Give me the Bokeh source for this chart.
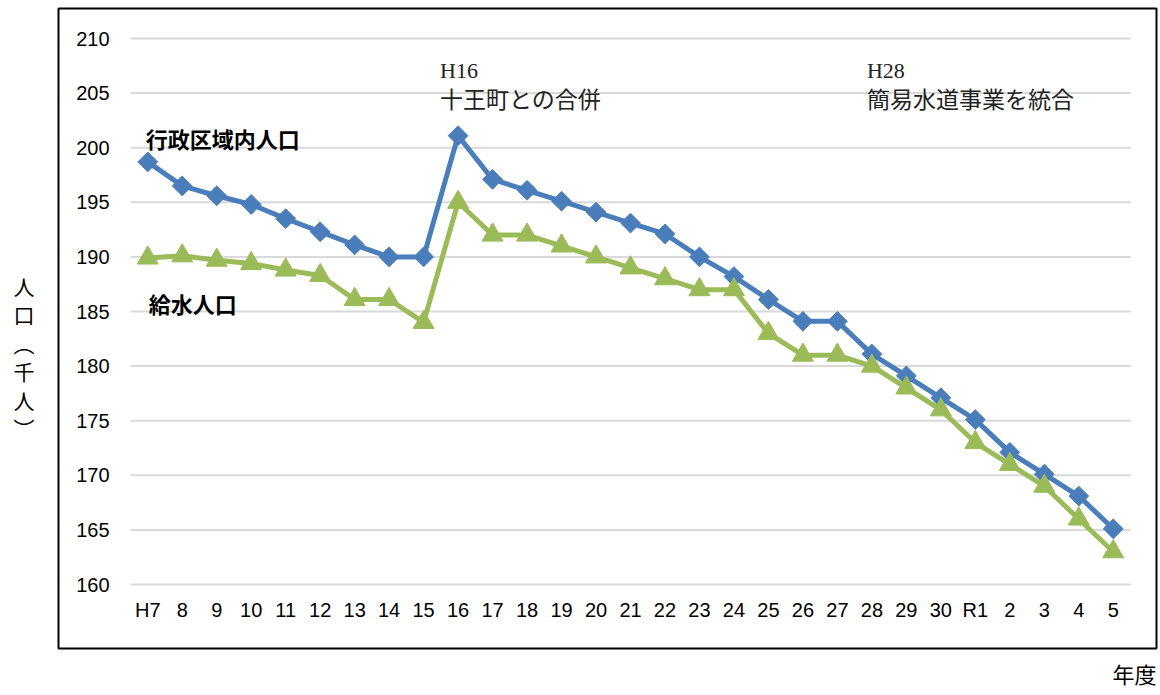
from bokeh.plotting import figure
from bokeh.models import FixedTicker, Range1d, ColumnDataSource, Title
from bokeh.core.properties import value
from bokeh.embed import file_html
from bokeh.resources import INLINE
import numpy as np

# ---- data ----
years = ["H7", "8", "9", "10", "11", "12", "13", "14", "15", "16", "17", "18",
         "19", "20", "21", "22", "23", "24", "25", "26", "27", "28", "29", "30",
         "R1", "2", "3", "4", "5"]
admin_pop = [198.7, 196.5, 195.6, 194.8, 193.5, 192.3, 191.1, 190.0, 190.0, 201.1,
             197.1, 196.1, 195.1, 194.1, 193.1, 192.1, 190.0, 188.2, 186.1, 184.1,
             184.1, 181.1, 179.1, 177.1, 175.1, 172.1, 170.1, 168.1, 165.1]
supply_pop = [189.9, 190.1, 189.7, 189.4, 188.8, 188.3, 186.1, 186.1, 184.0, 195.0,
              192.0, 192.0, 191.0, 190.0, 189.0, 188.0, 187.0, 187.0, 183.0, 181.0,
              181.0, 180.0, 178.0, 176.0, 173.0, 171.0, 169.0, 166.0, 163.0]
y_ticks = [160, 165, 170, 175, 180, 185, 190, 195, 200, 205, 210]
y_tick_labels = [str(t) for t in y_ticks]
series_names = ["行政区域内人口", "給水人口"]
notes = [("16", "H16", "十王町との合併"), ("28", "H28", "簡易水道事業を統合")]
y_title = "\n\n人\n口\n︵\n千\n人\n︶"
x_title = "年度"

BLUE = "#4A7EBB"
GREEN = "#9BBB59"
JP_NAME = "Noto Sans CJK JP"
JP = value(JP_NAME)
NUM = value("Liberation Sans")

# ---- geometry (page pixels) ----
W, H = 1160, 695
BOX_L, BOX_R, BOX_T, BOX_B = 58, 1156, 8, 648      # chart-area box = frame
GRID_L, GRID_R, GRID_T, GRID_B = 130, 1130, 38, 584  # plot area inside box

n = len(years)
xi = list(range(n))
band = (GRID_R - GRID_L) / n
ymin, ymax = y_ticks[0], y_ticks[-1]
ppu = (GRID_B - GRID_T) / (ymax - ymin)

x_start = (BOX_L - GRID_L) / band - 0.5
x_end = (BOX_R - GRID_L) / band - 0.5
y_end = ymax + (GRID_T - BOX_T) / ppu
y_start = ymin - (BOX_B - GRID_B) / ppu

def px_y(py):
    return ymax - (py - GRID_T) / ppu

p = figure(x_range=Range1d(x_start, x_end), y_range=Range1d(y_start, y_end),
           width=W, height=H, output_backend="svg", toolbar_location=None,
           x_axis_location=None,
           min_border_left=BOX_L, min_border_right=W - BOX_R,
           min_border_top=BOX_T, min_border_bottom=H - BOX_B)
p.outline_line_color = "#000000"
p.outline_line_width = 2
p.background_fill_color = "white"
p.border_fill_color = "white"
p.xgrid.visible = False
p.ygrid.visible = False

# left axis used only for the vertical title
ya = p.yaxis[0]
ya.ticker = FixedTicker(ticks=[])
ya.axis_line_color = None
ya.major_tick_line_color = None
ya.minor_tick_line_color = None
ya.major_tick_out = 0
ya.major_tick_in = 0
ya.major_label_standoff = 0
ya.axis_label = y_title
ya.axis_label_orientation = "horizontal"
ya.axis_label_standoff = 24
ya.axis_label_text_font = JP_NAME
ya.axis_label_text_font_size = "21px"
ya.axis_label_text_font_style = "normal"
ya.axis_label_text_line_height = 0.95
ya.axis_label_text_color = "#000000"

# x title
p.add_layout(Title(text=x_title, align="right", text_font=JP_NAME, text_font_size="22px",
                   text_font_style="normal", text_color="#000000", standoff=12), "below")

# horizontal gridlines
p.segment(x0=[-0.5] * len(y_ticks), x1=[n - 0.5] * len(y_ticks), y0=y_ticks, y1=y_ticks,
          line_color="#D9D9D9", line_width=2)

# tick labels
p.text(x=[-0.5] * len(y_ticks), y=y_ticks, text=y_tick_labels, x_offset=-21,
       text_font=NUM, text_font_size="20px", text_align="right", text_baseline="middle",
       text_color="#000000")
p.text(x=xi, y=[ymin] * n, text=years, y_offset=25,
       text_font=NUM, text_font_size="20px", text_align="center", text_baseline="middle",
       text_color="#000000")

src = ColumnDataSource(dict(x=xi, a=admin_pop, s=supply_pop))
p.line("x", "a", source=src, line_color=BLUE, line_width=5)
p.scatter("x", "a", source=src, marker="square", angle=np.pi / 4, size=14,
          fill_color=BLUE, line_color=BLUE)
p.line("x", "s", source=src, line_color=GREEN, line_width=5)
p.scatter("x", "s", source=src, marker="triangle", size=21,
          fill_color=GREEN, line_color=GREEN)

# series labels
p.text(x=[0], y=[px_y(137)], text=[series_names[0]], x_offset=-2,
       text_font=JP, text_font_size="22px", text_font_style="bold",
       text_baseline="middle", text_align="left", text_color="#000000")
p.text(x=[0], y=[px_y(302)], text=[series_names[1]], x_offset=1,
       text_font=JP, text_font_size="22px", text_font_style="bold",
       text_baseline="middle", text_align="left", text_color="#000000")

# notes
for (cat, l1, l2), off in zip(notes, [-18, -5]):
    ix = years.index(cat)
    p.text(x=[ix], y=[px_y(70)], text=[l1], x_offset=off,
           text_font=value("Liberation Serif"), text_font_size="22px",
           text_baseline="middle", text_align="left", text_color="#222222")
    p.text(x=[ix], y=[px_y(97)], text=[l2], x_offset=off,
           text_font=JP, text_font_size="23px", text_font_style="normal",
           text_baseline="middle", text_align="left", text_color="#222222")

open("out.html", "w").write(file_html(p, INLINE))
